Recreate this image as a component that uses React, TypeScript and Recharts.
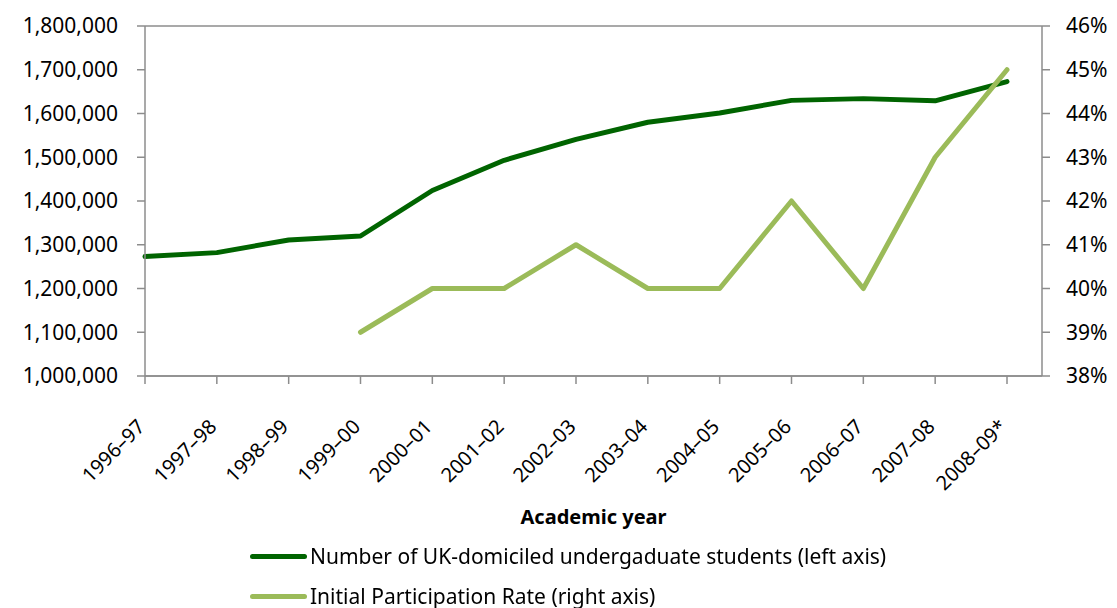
import { LineChart, Line, XAxis, YAxis, CartesianGrid, Legend } from "recharts";

const YEARS = [
  "1996–97", "1997–98", "1998–99", "1999–00", "2000–01", "2001–02", "2002–03",
  "2003–04", "2004–05", "2005–06", "2006–07", "2007–08", "2008–09*",
];
const STUDENTS = [
  1273000, 1282000, 1311000, 1320000, 1424000, 1493000, 1541000,
  1580000, 1601000, 1630000, 1634000, 1629000, 1673000,
];
const PARTICIPATION = [null, null, null, 39, 40, 40, 41, 40, 40, 42, 40, 43, 45];
const LEFT_TICKS = [1000000, 1100000, 1200000, 1300000, 1400000, 1500000, 1600000, 1700000, 1800000];
const RIGHT_TICKS = [38, 39, 40, 41, 42, 43, 44, 45, 46];
const LEGEND_ORDER = ["students", "rate"];

const DARK = "#006400";
const LIGHT = "#9BBB59";
const GRID = "#8c8c8c";
const FONT = "'Noto Sans', sans-serif";

const data = YEARS.map((year, i) => ({
  year,
  students: STUDENTS[i],
  rate: PARTICIPATION[i],
}));

function YearTick({ x, y, payload }: any) {
  const tx = x + 1;
  const ty = y + 42;
  return (
    <text
      x={tx}
      y={ty}
      transform={`rotate(-45 ${tx} ${ty})`}
      textAnchor="end"
      fontSize={20}
      fontFamily={FONT}
      fill="#000"
    >
      {payload.value}
    </text>
  );
}

function LegendRows({ payload }: any) {
  const items = [...(payload ?? [])].sort(
    (a: any, b: any) => LEGEND_ORDER.indexOf(a.dataKey) - LEGEND_ORDER.indexOf(b.dataKey)
  );
  return (
    <div style={{ fontFamily: FONT, fontSize: 21, color: "#000" }}>
      {items.map((item: any) => (
        <div
          key={item.value}
          style={{ display: "flex", alignItems: "center", height: 40 }}
        >
          <div
            style={{
              width: 57,
              height: 5,
              borderRadius: 3,
              background: item.color,
              marginRight: 3,
            }}
          />
          <span style={{ whiteSpace: "nowrap", lineHeight: "24px" }}>{item.value}</span>
        </div>
      ))}
    </div>
  );
}

export default function App() {
  return (
    <div style={{ position: "fixed", left: 0, top: 0, background: "#fff" }}>
      <LineChart
        width={1117}
        height={608}
        data={data}
        margin={{ top: 26, right: 0, left: 0, bottom: 72 }}
      >
        <CartesianGrid vertical={false} stroke={GRID} strokeWidth={1.5} />
        <XAxis
          dataKey="year"
          height={160}
          interval={0}
          padding={{ left: 0, right: 35 }}
          stroke={GRID}
          strokeWidth={1.5}
          tickSize={8}
          tick={<YearTick />}
          label={{
            value: "Academic year",
            position: "insideBottom",
            offset: 12,
            style: { fontFamily: FONT, fontSize: 20, fontWeight: 700, fill: "#000" },
          }}
        />
        <YAxis
          yAxisId="left"
          width={145}
          domain={[1000000, 1800000]}
          ticks={LEFT_TICKS}
          interval={0}
          tickFormatter={(v: number) => v.toLocaleString("en-US")}
          stroke={GRID}
          strokeWidth={1.5}
          tickSize={8}
          tickMargin={19}
          tick={{ fontSize: 21, fontFamily: FONT, fill: "#000" }}
        />
        <YAxis
          yAxisId="right"
          orientation="right"
          width={75}
          domain={[38, 46]}
          ticks={RIGHT_TICKS}
          interval={0}
          tickFormatter={(v: number) => `${v}%`}
          stroke={GRID}
          strokeWidth={1.5}
          tickSize={8}
          tickMargin={16}
          tick={{ fontSize: 21, fontFamily: FONT, fill: "#000" }}
        />
        <Legend
          layout="horizontal"
          verticalAlign="middle"
          align="center"
          content={<LegendRows />}
          wrapperStyle={{ top: 536, left: 250, width: "auto", height: "auto" }}
        />
        <Line
          yAxisId="left"
          dataKey="students"
          name="Number of UK-domiciled undergaduate students (left axis)"
          stroke={DARK}
          strokeWidth={5}
          strokeLinecap="round"
          strokeLinejoin="round"
          dot={false}
          activeDot={false}
          isAnimationActive={false}
        />
        <Line
          yAxisId="right"
          dataKey="rate"
          name="Initial Participation Rate (right axis)"
          stroke={LIGHT}
          strokeWidth={5}
          strokeLinecap="round"
          strokeLinejoin="round"
          dot={false}
          activeDot={false}
          isAnimationActive={false}
        />
      </LineChart>
    </div>
  );
}
